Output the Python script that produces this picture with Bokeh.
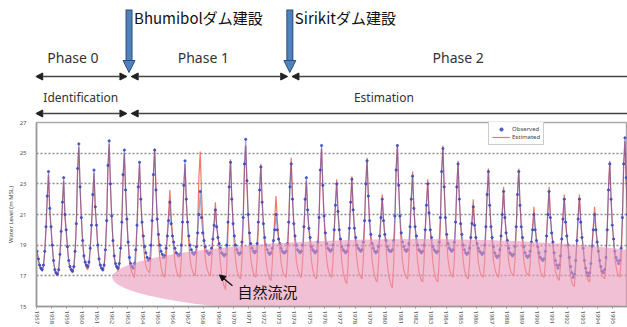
from bokeh.plotting import figure
from bokeh.models import Range1d, FixedTicker, Arrow, NormalHead, Legend, LegendItem
from bokeh.layouts import column
from bokeh.core.properties import value
from bokeh.embed import file_html
from bokeh.resources import INLINE

# ---------------- data ----------------
years = list(range(1957, 1996))
months = list(range(12))

# observed water level (m MSL), monthly, one row per year 1957..1995
observed = [
    18.6, 18.1, 17.7, 17.5, 17.4, 17.7, 18.6, 20.2, 22.2, 23.8, 21.4, 20.2,
    19.0, 18.0, 17.4, 17.2, 17.1, 17.4, 18.4, 19.9, 21.8, 23.4, 21.0, 20.0,
    18.9, 18.0, 17.6, 17.4, 17.3, 17.6, 18.6, 20.4, 24.0, 25.6, 22.8, 20.8,
    19.3, 18.3, 17.9, 17.7, 17.6, 17.9, 18.8, 20.3, 22.3, 23.9, 21.5, 20.3,
    19.0, 18.1, 17.7, 17.5, 17.4, 17.7, 18.7, 20.6, 24.2, 25.8, 23.0, 20.9,
    19.3, 18.3, 17.8, 17.6, 17.5, 17.8, 18.8, 20.5, 23.6, 25.2, 22.6, 20.7,
    19.2, 18.2, 17.8, 17.6, 17.5, 17.8, 18.7, 20.3, 22.8, 24.4, 22.0, 20.5,
    19.6, 18.9, 18.5, 18.2, 18.0, 18.1, 19.0, 20.6, 23.6, 25.2, 22.6, 20.7,
    19.7, 19.0, 18.6, 18.4, 18.2, 18.3, 18.8, 19.6, 20.6, 21.8, 20.4, 19.6,
    19.2, 18.8, 18.5, 18.4, 18.3, 18.4, 19.0, 20.5, 22.9, 24.5, 22.0, 20.5,
    19.6, 19.0, 18.7, 18.5, 18.4, 18.5, 18.9, 19.8, 21.0, 22.5, 20.8, 19.8,
    19.3, 18.9, 18.6, 18.5, 18.4, 18.5, 18.8, 19.4, 20.3, 21.3, 20.2, 19.5,
    19.1, 18.8, 18.5, 18.4, 18.3, 18.4, 19.0, 20.5, 22.8, 24.4, 22.0, 20.4,
    19.6, 19.0, 18.7, 18.5, 18.4, 18.5, 19.2, 20.8, 24.3, 25.9, 23.2, 21.0,
    19.8, 19.1, 18.8, 18.6, 18.5, 18.6, 19.1, 20.5, 22.6, 24.1, 21.8, 20.4,
    19.5, 19.0, 18.7, 18.5, 18.4, 18.5, 18.8, 19.3, 20.0, 21.0, 20.0, 19.4,
    19.1, 18.8, 18.6, 18.5, 18.5, 18.6, 19.1, 20.5, 22.8, 24.3, 22.0, 20.4,
    19.6, 19.0, 18.7, 18.6, 18.5, 18.6, 19.0, 20.2, 22.0, 23.4, 21.3, 20.1,
    19.5, 18.9, 18.7, 18.6, 18.5, 18.6, 19.2, 20.8, 23.9, 25.5, 22.9, 20.9,
    19.8, 19.1, 18.8, 18.7, 18.6, 18.7, 19.0, 20.0, 21.6, 23.0, 21.2, 20.0,
    19.4, 18.9, 18.7, 18.6, 18.5, 18.6, 19.0, 20.1, 21.8, 23.3, 21.3, 20.1,
    19.5, 19.0, 18.8, 18.7, 18.6, 18.7, 19.2, 20.6, 23.0, 24.5, 22.2, 20.6,
    19.7, 19.1, 18.8, 18.6, 18.5, 18.6, 18.9, 19.6, 20.8, 22.0, 20.6, 19.7,
    19.3, 18.9, 18.7, 18.6, 18.6, 18.7, 19.3, 20.9, 23.9, 25.5, 22.9, 20.9,
    19.8, 19.2, 18.9, 18.7, 18.6, 18.7, 19.1, 20.2, 22.0, 23.5, 21.4, 20.2,
    19.6, 19.0, 18.7, 18.6, 18.5, 18.6, 19.0, 20.0, 21.6, 23.0, 21.1, 20.0,
    19.5, 18.9, 18.7, 18.6, 18.5, 18.6, 19.2, 20.8, 23.8, 25.3, 22.8, 20.8,
    19.7, 19.1, 18.8, 18.7, 18.6, 18.7, 19.2, 20.5, 22.8, 24.3, 22.0, 20.4,
    19.7, 19.0, 18.7, 18.5, 18.4, 18.5, 18.8, 19.5, 20.4, 21.5, 20.3, 19.5,
    19.1, 18.8, 18.6, 18.5, 18.4, 18.5, 19.0, 20.2, 22.3, 23.8, 21.6, 20.2,
    19.5, 18.9, 18.5, 18.3, 18.2, 18.3, 18.7, 19.6, 21.0, 22.5, 20.8, 19.8,
    19.3, 18.8, 18.5, 18.4, 18.3, 18.4, 18.9, 20.2, 22.3, 23.8, 21.6, 20.2,
    19.5, 18.9, 18.5, 18.3, 18.2, 18.3, 18.6, 19.2, 20.0, 21.0, 20.0, 19.3,
    18.9, 18.5, 18.2, 18.1, 18.0, 18.1, 18.6, 19.6, 21.0, 22.5, 20.8, 19.8,
    19.2, 18.5, 18.0, 17.7, 17.5, 17.7, 18.3, 19.4, 20.7, 22.0, 20.5, 19.6,
    19.0, 18.2, 17.6, 17.2, 16.9, 17.1, 18.0, 19.3, 20.7, 22.0, 20.5, 19.5,
    18.8, 18.0, 17.5, 17.2, 17.0, 17.2, 17.8, 18.9, 20.0, 21.0, 20.0, 19.2,
    18.6, 18.0, 17.6, 17.3, 17.2, 17.4, 18.2, 20.0, 22.6, 24.3, 22.0, 20.3,
    19.4, 18.6, 18.2, 18.0, 17.8, 18.0, 18.8, 20.8, 24.3, 26.0, 23.4, 21.0,
]

# estimated (natural flow) water level (m MSL), monthly, one row per year
estimated = [
    18.6, 18.0, 17.6, 17.4, 17.3, 17.6, 18.5, 20.0, 22.0, 23.6, 21.2, 20.1,
    18.9, 17.9, 17.3, 17.1, 17.0, 17.3, 18.3, 19.8, 21.6, 23.2, 20.8, 19.9,
    18.8, 17.9, 17.5, 17.3, 17.2, 17.5, 18.5, 20.3, 23.8, 25.4, 22.6, 20.7,
    19.2, 18.2, 17.8, 17.5, 17.4, 17.7, 18.7, 20.2, 22.1, 23.7, 21.3, 20.2,
    18.9, 18.0, 17.6, 17.4, 17.3, 17.6, 18.6, 20.5, 24.0, 25.6, 22.8, 20.8,
    19.2, 18.2, 17.7, 17.5, 17.3, 17.6, 18.7, 20.4, 23.4, 25.0, 22.4, 20.6,
    19.1, 18.0, 17.5, 17.2, 17.0, 16.9, 18.2, 20.1, 22.7, 24.3, 21.9, 20.4,
    19.2, 18.2, 17.7, 17.4, 17.3, 17.2, 18.3, 20.4, 23.7, 25.3, 22.7, 20.7,
    19.3, 18.2, 17.6, 17.2, 17.0, 16.9, 17.9, 19.7, 21.1, 22.6, 20.9, 19.8,
    18.9, 17.9, 17.4, 17.1, 17.0, 16.9, 18.0, 20.2, 22.7, 24.3, 21.8, 20.4,
    19.1, 18.1, 17.6, 17.3, 17.1, 17.0, 18.1, 20.3, 23.5, 25.1, 22.5, 20.6,
    19.2, 18.1, 17.6, 17.3, 17.1, 17.0, 17.9, 19.4, 20.5, 21.8, 20.4, 19.6,
    18.8, 17.8, 17.1, 16.6, 16.3, 16.1, 17.6, 20.0, 23.0, 24.6, 22.1, 20.5,
    19.0, 18.0, 17.4, 17.1, 16.9, 16.8, 18.0, 20.5, 23.9, 25.5, 22.8, 20.8,
    19.2, 18.1, 17.6, 17.2, 17.0, 16.9, 18.0, 20.3, 22.7, 24.3, 21.9, 20.4,
    19.0, 18.0, 17.4, 17.0, 16.8, 16.7, 17.8, 19.5, 20.8, 22.2, 20.6, 19.6,
    18.8, 17.9, 17.4, 17.1, 17.0, 16.9, 18.0, 20.3, 23.1, 24.7, 22.2, 20.5,
    19.1, 18.0, 17.5, 17.2, 17.0, 16.9, 17.9, 19.9, 21.7, 23.2, 21.1, 20.0,
    19.0, 18.0, 17.4, 17.1, 16.9, 16.8, 18.0, 20.5, 23.7, 25.3, 22.7, 20.7,
    19.2, 18.1, 17.5, 17.2, 17.0, 16.9, 17.9, 19.9, 21.8, 23.3, 21.2, 20.0,
    19.0, 17.9, 17.3, 16.9, 16.6, 16.5, 17.7, 19.9, 21.9, 23.5, 21.3, 20.1,
    19.0, 18.0, 17.4, 17.1, 16.9, 16.8, 18.0, 20.3, 23.1, 24.7, 22.2, 20.5,
    19.2, 18.0, 17.4, 17.0, 16.7, 16.6, 17.7, 19.5, 20.9, 22.3, 20.7, 19.7,
    18.9, 17.8, 17.1, 16.7, 16.4, 16.2, 17.7, 20.4, 24.0, 25.6, 22.9, 20.8,
    19.1, 18.0, 17.4, 17.1, 16.9, 16.8, 17.9, 20.0, 22.2, 23.8, 21.5, 20.2,
    19.0, 17.9, 17.3, 16.9, 16.7, 16.6, 17.8, 19.9, 21.8, 23.3, 21.2, 20.0,
    19.0, 17.9, 17.3, 16.9, 16.7, 16.6, 17.9, 20.4, 23.9, 25.5, 22.8, 20.8,
    19.2, 18.1, 17.5, 17.2, 17.0, 16.9, 18.0, 20.3, 22.9, 24.5, 22.0, 20.4,
    19.1, 18.0, 17.4, 17.1, 16.9, 16.8, 17.8, 19.5, 20.7, 22.0, 20.5, 19.6,
    18.9, 17.9, 17.4, 17.1, 17.0, 16.9, 17.9, 20.1, 22.4, 24.0, 21.7, 20.3,
    19.1, 18.0, 17.5, 17.2, 17.0, 16.9, 17.8, 19.7, 21.3, 22.8, 20.9, 19.9,
    19.0, 18.0, 17.5, 17.2, 17.1, 17.0, 18.0, 20.1, 22.4, 24.0, 21.7, 20.3,
    19.1, 18.0, 17.5, 17.2, 17.1, 17.0, 17.8, 19.3, 20.3, 21.5, 20.2, 19.4,
    18.8, 17.9, 17.4, 17.1, 17.0, 16.9, 17.8, 19.7, 21.3, 22.8, 20.9, 19.9,
    19.0, 17.9, 17.3, 17.0, 16.8, 16.7, 17.7, 19.6, 21.0, 22.3, 20.7, 19.7,
    18.9, 17.7, 17.0, 16.6, 16.4, 16.3, 17.5, 19.5, 21.0, 22.3, 20.7, 19.6,
    18.9, 17.8, 17.2, 16.9, 16.7, 16.6, 17.5, 19.1, 20.3, 21.5, 20.2, 19.3,
    18.7, 17.8, 17.3, 17.0, 16.9, 16.8, 17.9, 20.2, 22.9, 24.5, 22.1, 20.4,
    19.3, 18.2, 17.6, 17.2, 17.0, 16.9, 18.1, 20.7, 24.2, 25.8, 23.1, 20.9,
]

tick_years = list(range(1957, 1997))
y_ticks = [15, 17, 19, 21, 23, 25, 27]
grid_levels = [17, 19, 21, 23, 25]

dam_years = [1963.1, 1973.7]
dam_labels = ["Bhumibolダム建設", "Sirikitダム建設"]
phase_labels = ["Phase 0", "Phase 1", "Phase 2"]
phase_label_x = [1959.4, 1968.0, 1984.8]
stage_labels = ["Identification", "Estimation"]

X_START, X_END = 1957.0, 1995.96

# time axis: mid-month positions
t = [yr + (m + 0.5) / 12.0 for yr in years for m in months]

FONT = "Noto Sans"
JP = "Noto Sans CJK JP"
W = 627
LEFT = 36
TOP_H = 118

x_range = Range1d(X_START, X_END)

# ---------------- top annotation strip ----------------
top = figure(width=W, height=TOP_H, x_range=x_range, y_range=Range1d(TOP_H, 0),
             output_backend="svg", toolbar_location=None,
             min_border_left=LEFT, min_border_right=0, min_border_top=0, min_border_bottom=0)
top.axis.visible = False
top.grid.visible = False
top.outline_line_color = None

# dam arrows (shaft with dark outline + head)
top.segment(x0=dam_years, y0=[9, 9], x1=dam_years, y1=[61, 61], line_color="#2d4d78", line_width=7)
top.segment(x0=dam_years, y0=[10, 10], x1=dam_years, y1=[61, 61], line_color="#4f81bd", line_width=5)
for d in dam_years:
    top.add_layout(Arrow(end=NormalHead(size=12, fill_color="#4f81bd", line_color="#2d4d78", line_width=1),
                         x_start=d, y_start=59, x_end=d, y_end=72, line_alpha=0))
top.text(x=[d + 0.33 for d in dam_years], y=[17, 17], text=dam_labels,
         text_font=value(JP), text_font_size="15px", text_color="#111111",
         text_baseline="middle", text_align="left")

# phase labels and arrows
top.text(x=phase_label_x, y=[57, 57, 57], text=phase_labels, text_font=value(FONT),
         text_font_size="14px", text_color="#333333", text_baseline="middle", text_align="center")

def harrow(x0, x1, y, left_head=True, right_head=True):
    top.add_layout(Arrow(
        start=NormalHead(size=7, fill_color="#222222", line_color="#222222") if left_head else None,
        end=NormalHead(size=7, fill_color="#222222", line_color="#222222") if right_head else None,
        x_start=x0, y_start=y, x_end=x1, y_end=y, line_color="#444444", line_width=1.5))

gap = 0.14
harrow(X_START - 0.05, dam_years[0] - gap, 76)
harrow(dam_years[0] + gap, dam_years[1] - gap, 76)
harrow(dam_years[1] + gap, X_END, 76, right_head=False)

# stage labels and arrows
top.text(x=[X_START + 0.45], y=[97], text=[stage_labels[0]], text_font=value(FONT),
         text_font_size="12px", text_color="#333333", text_baseline="middle", text_align="left")
top.text(x=[1979.9], y=[97], text=[stage_labels[1]], text_font=value(FONT),
         text_font_size="12px", text_color="#333333", text_baseline="middle", text_align="center")
harrow(X_START - 0.05, dam_years[0] - gap, 113)
harrow(dam_years[0] + gap, X_END, 113, right_head=False)

# ---------------- main chart ----------------
p = figure(width=W, height=327 - TOP_H, x_range=x_range, y_range=Range1d(15, 27),
           output_backend="svg", toolbar_location=None,
           min_border_left=LEFT, min_border_right=0, min_border_top=4, min_border_bottom=19)
p.outline_line_color = "#aaaaaa"
p.outline_line_width = 1.5
p.xgrid.visible = False
p.ygrid.ticker = FixedTicker(ticks=grid_levels)
p.ygrid.grid_line_color = "#8a8a8a"
p.ygrid.grid_line_dash = "2 2"
p.ygrid.grid_line_width = 1.5

p.xaxis.ticker = FixedTicker(ticks=tick_years)
p.xaxis.major_label_orientation = "vertical"
p.xaxis.major_label_text_font_size = "6px"
p.xaxis.major_label_text_font = FONT
p.xaxis.major_label_text_color = "#555555"
p.xaxis.major_label_standoff = 2
p.xaxis.major_tick_out = 2
p.xaxis.major_tick_in = 0
p.xaxis.minor_tick_line_color = None
p.xaxis.major_tick_line_color = "#999999"
p.xaxis.axis_line_color = "#999999"
p.xaxis.axis_line_width = 1.5

p.yaxis.ticker = FixedTicker(ticks=y_ticks)
p.yaxis.major_label_text_font_size = "6px"
p.yaxis.major_label_text_font = FONT
p.yaxis.major_label_text_color = "#555555"
p.yaxis.major_label_standoff = 4
p.yaxis.major_tick_line_color = None
p.yaxis.minor_tick_line_color = None
p.yaxis.axis_line_color = "#999999"
p.yaxis.axis_line_width = 1.5
p.yaxis.axis_label = "Water Level (m MSL)"
p.yaxis.axis_label_text_font_size = "6px"
p.yaxis.axis_label_text_font = FONT
p.yaxis.axis_label_text_font_style = "normal"
p.yaxis.axis_label_text_color = "#444444"
p.yaxis.axis_label_standoff = 2

est_r = p.line(t, estimated, line_color="#f0604c", line_width=1.2, line_alpha=0.85)
p.line(t, observed, line_color="#3a4ec4", line_width=1.2, line_alpha=0.5)
obs_r = p.scatter(t, observed, size=2.2, color="#3a4ec4", alpha=0.9)

# natural-flow highlight
p.ellipse(x=[1982.0], y=[16.9], width=40, height=5.0, fill_color="#e996b7",
          fill_alpha=0.6, line_color=None)
p.add_layout(Arrow(end=NormalHead(size=6, fill_color="#111111", line_color="#111111"),
                   x_start=1969.92, y_start=16.35, x_end=1969.06, y_end=17.06,
                   line_color="#111111", line_width=1.3))
p.text(x=[1970.25], y=[15.97], text=["自然流況"], text_font=value(JP), text_font_size="15px",
       text_color="#111111", text_baseline="middle", text_align="left")

legend = Legend(items=[LegendItem(label="Observed", renderers=[obs_r]),
                       LegendItem(label="Estimated", renderers=[est_r])],
                location=(452, 161), label_text_font_size="6px", label_text_font=FONT,
                label_height=8, glyph_height=8, glyph_width=18, label_standoff=2,
                padding=3, spacing=0, margin=0, border_line_color="#999999",
                border_line_width=1, background_fill_color="white")
p.add_layout(legend)

layout = column(top, p, spacing=0)
open("out.html", "w").write(file_html(layout, INLINE))
